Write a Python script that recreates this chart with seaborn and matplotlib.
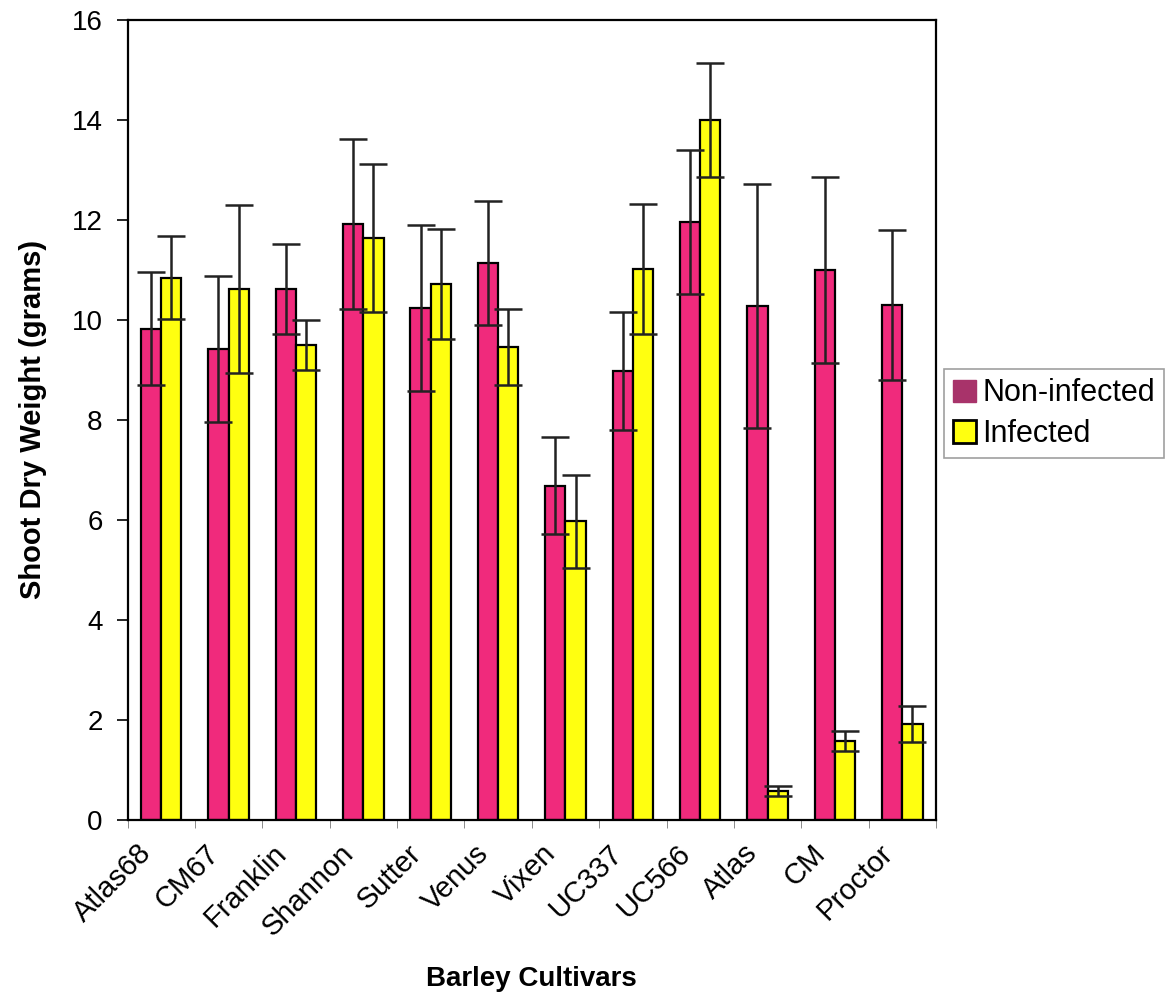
import seaborn as sns
import pandas as pd
import matplotlib.pyplot as plt
from matplotlib.patches import Patch
from matplotlib.transforms import ScaledTranslation

cultivars = ['Atlas68', 'CM67', 'Franklin', 'Shannon', 'Sutter', 'Venus',
             'Vixen', 'UC337', 'UC566', 'Atlas', 'CM', 'Proctor']
non_infected = [9.82, 9.42, 10.62, 11.92, 10.24, 11.14, 6.68, 8.98, 11.96, 10.28, 11.0, 10.3]
non_infected_err = [1.13, 1.46, 0.9, 1.7, 1.66, 1.24, 0.97, 1.18, 1.44, 2.44, 1.86, 1.5]
infected = [10.84, 10.62, 9.5, 11.64, 10.72, 9.46, 5.97, 11.02, 14.0, 0.58, 1.58, 1.92]
infected_err = [0.83, 1.68, 0.5, 1.48, 1.1, 0.76, 0.93, 1.3, 1.14, 0.1, 0.2, 0.36]
groups = ['Non-infected', 'Infected']

df = pd.DataFrame({
    'cultivar': cultivars * 2,
    'group': [groups[0]] * len(cultivars) + [groups[1]] * len(cultivars),
    'weight': non_infected + infected,
})
errs = [non_infected_err, infected_err]

sns.set_style('white')
plt.rcParams['font.family'] = ['Liberation Sans', 'DejaVu Sans']
plt.rcParams['text.color'] = 'black'
plt.rcParams['axes.labelcolor'] = 'black'
plt.rcParams['xtick.color'] = 'black'
plt.rcParams['ytick.color'] = 'black'

fig = plt.figure(figsize=(11.7, 10.02), dpi=100)
ax = fig.add_axes([0.109, 0.182, 0.691, 0.798])

sns.barplot(data=df, x='cultivar', y='weight', hue='group', order=cultivars,
            hue_order=groups, palette=['#f02a7c', '#ffff10'], saturation=1,
            width=0.6, gap=0, edgecolor='black', linewidth=1.6, errorbar=None,
            legend=False, ax=ax)

# error bars on top of each bar
for cont, e in zip(ax.containers, errs):
    xs = [b.get_x() + b.get_width() / 2 for b in cont]
    ys = [b.get_height() for b in cont]
    ax.errorbar(xs, ys, yerr=e, fmt='none', ecolor='#222222', elinewidth=1.8,
                capsize=10, capthick=1.8, zorder=5)

ax.set_ylim(0, 16)
ax.set_xlim(-0.5, len(cultivars) - 0.5)
ax.set_yticks(range(0, 17, 2))
ax.set_xticks([i - 0.5 for i in range(len(cultivars) + 1)], minor=True)
ax.tick_params(axis='x', which='major', length=0, pad=14)
ax.tick_params(axis='x', which='minor', length=6, color='#777777', direction='out', bottom=True)
ax.tick_params(axis='y', length=8, width=1.2, direction='out', left=True, labelsize=20, pad=10)
ax.set_xticklabels(cultivars, rotation=45, ha='right', rotation_mode='anchor', fontsize=21)
shift = ScaledTranslation(-24 / 100, 0, fig.dpi_scale_trans)
for lab in ax.get_xticklabels():
    lab.set_transform(lab.get_transform() + shift)

for s in ax.spines.values():
    s.set_color('black')
    s.set_linewidth(1.6)

ax.set_ylabel('Shoot Dry Weight (grams)', fontsize=21, fontweight='bold', labelpad=18)
ax.set_xlabel('Barley Cultivars', fontsize=20, fontweight='bold', labelpad=18)

handles = [Patch(facecolor='#a8336a', edgecolor='#a8336a', label='Non-infected'),
           Patch(facecolor='#ffff10', edgecolor='black', linewidth=2, label='Infected')]
leg = fig.legend(handles=handles, loc='center left', bbox_to_anchor=(0.807, 0.587),
                 fontsize=22, frameon=True, fancybox=False, handlelength=0.75,
                 handleheight=0.75, handletextpad=0.2, borderpad=0.3, labelspacing=0.35,
                 borderaxespad=0)
leg.get_frame().set_edgecolor('#888888')
leg.get_frame().set_linewidth(1.2)

plt.savefig('out.png', dpi=100)
